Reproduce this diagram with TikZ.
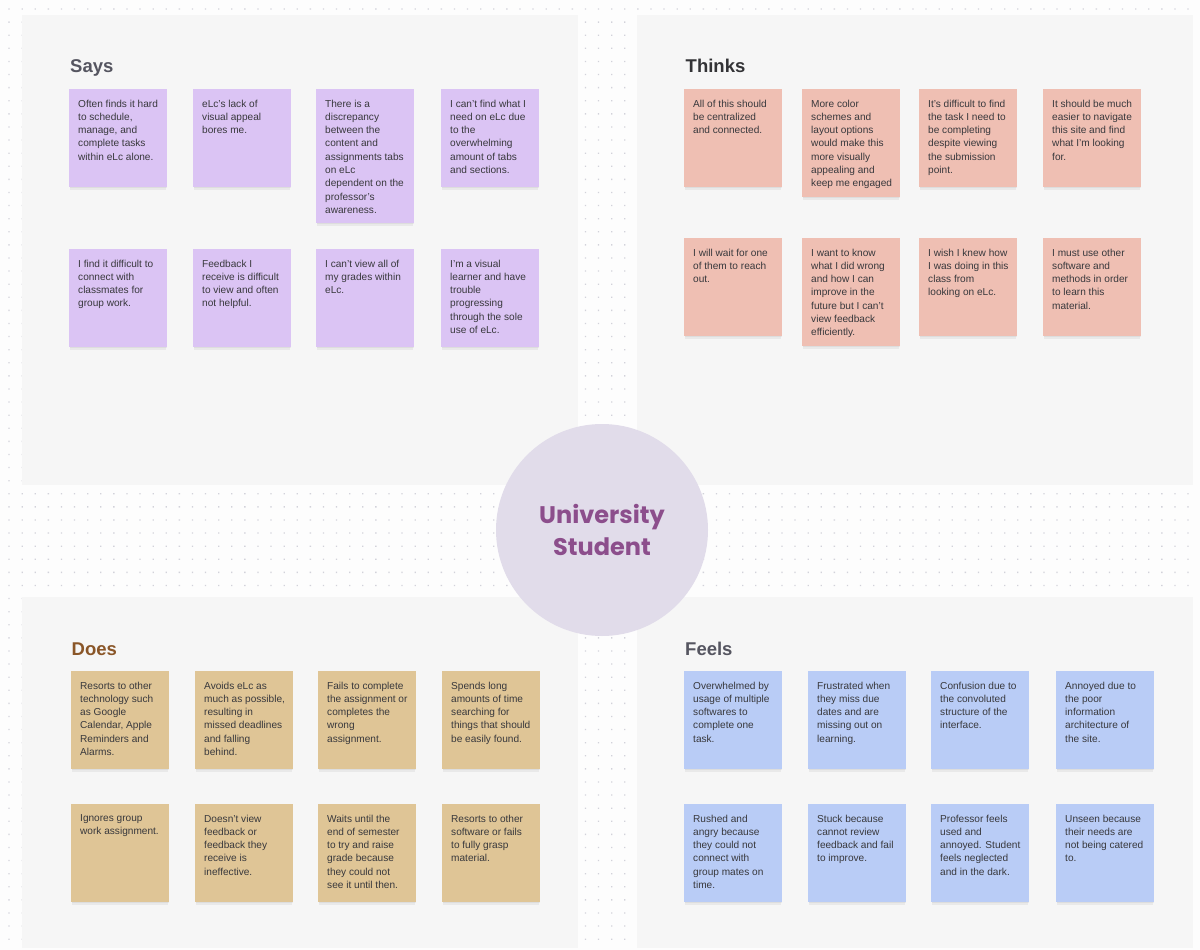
\documentclass[tikz,border=0pt]{standalone}
\usepackage{fontspec}
\setmainfont{Liberation Sans}
\newfontfamily\circfont{Poppins}
\definecolor{bgwhite}{HTML}{FDFDFD}
\definecolor{dotcol}{HTML}{D2D2DA}
\definecolor{panelcol}{HTML}{F6F6F6}
\definecolor{saysfill}{HTML}{DBC4F4}
\definecolor{thinksfill}{HTML}{EFBFB3}
\definecolor{doesfill}{HTML}{DFC596}
\definecolor{feelsfill}{HTML}{B9CCF6}
\definecolor{notetxt}{HTML}{38383C}
\definecolor{circfill}{HTML}{E1DCEA}
\definecolor{circtxt}{HTML}{8C4E8C}
\definecolor{saystitle}{HTML}{555560}
\definecolor{thinkstitle}{HTML}{333336}
\definecolor{doestitle}{HTML}{8A5628}
\definecolor{feelstitle}{HTML}{555560}
\tikzset{
  panel/.style={fill=panelcol, draw=none, anchor=north west, inner sep=0pt},
  note/.style={anchor=north west, minimum width=98pt, inner sep=0pt, draw=none},
  softshadow/.style={fill=black, opacity=0.05},
  notetext/.style={anchor=north west, align=left, inner sep=0pt, text=notetxt,
    font=\fontsize{10.1}{13.3}\selectfont},
  title/.style={anchor=base west, inner sep=0pt, font=\bfseries\fontsize{18.5}{22}\selectfont},
  says/.style={fill=saysfill},
  thinks/.style={fill=thinksfill},
  does/.style={fill=doesfill},
  feels/.style={fill=feelsfill},
}
\newcommand\sticky[6]{%
  \fill[softshadow] (#2+0.5,#3+1) rectangle (#2+97.5,#3+#4+1.3);
  \fill[softshadow] (#2+1,#3+2) rectangle (#2+97,#3+#4+2.6);
  \node[note,#5,minimum height=#4pt] (#1) at (#2,#3) {};
  \node[notetext] (#1t) at ([xshift=9pt,yshift=-10.5pt]#1.north west) {#6};
}
\begin{document}
\begin{tikzpicture}[x=1pt,y=-1pt]
\useasboundingbox (0,0) rectangle (1200,950);
\fill[bgwhite] (0,0) rectangle (1200,950);
\foreach \j in {0,...,71} {
  \fill[dotcol] \foreach \i in {0,...,90} { (8.4+13.1*\i, 8.4+13.1*\j) rectangle ++(1.3,1.3) };
}
% panels
\node[panel, minimum width=556pt, minimum height=470pt] (pSays) at (22,15) {};
\node[panel, minimum width=556pt, minimum height=470pt] (pThinks) at (637,15) {};
\node[panel, minimum width=556pt, minimum height=351pt] (pDoes) at (22,597) {};
\node[panel, minimum width=556pt, minimum height=351pt] (pFeels) at (637,597) {};
% titles
\node[title, text=saystitle] (tSays) at (70,73) {Says};
\node[title, text=thinkstitle] (tThinks) at (685.5,73) {Thinks};
\node[title, text=doestitle] (tDoes) at (71.5,655) {Does};
\node[title, text=feelstitle] (tFeels) at (685,655) {Feels};
% Says
\sticky{s1}{69}{89}{98}{says}{Often finds it hard\\to schedule,\\manage, and\\complete tasks\\within eLc alone.}
\sticky{s2}{193}{89}{98}{says}{eLc’s lack of\\visual appeal\\bores me.}
\sticky{s3}{316}{89}{134}{says}{There is a\\discrepancy\\between the\\content and\\assignments tabs\\on eLc\\dependent on the\\professor’s\\awareness.}
\sticky{s4}{441}{89}{98}{says}{I can’t find what I\\need on eLc due\\to the\\overwhelming\\amount of tabs\\and sections.}
\sticky{s5}{69}{249}{98}{says}{I find it difficult to\\connect with\\classmates for\\group work.}
\sticky{s6}{193}{249}{98}{says}{Feedback I\\receive is difficult\\to view and often\\not helpful.}
\sticky{s7}{316}{249}{98}{says}{I can’t view all of\\my grades within\\eLc.}
\sticky{s8}{441}{249}{98}{says}{I’m a visual\\learner and have\\trouble\\progressing\\through the sole\\use of eLc.}
% Thinks
\sticky{t1}{684}{89}{98}{thinks}{All of this should\\be centralized\\and connected.}
\sticky{t2}{802}{89}{108}{thinks}{More color\\schemes and\\layout options\\would make this\\more visually\\appealing and\\keep me engaged}
\sticky{t3}{919}{89}{98}{thinks}{It’s difficult to find\\the task I need to\\be completing\\despite viewing\\the submission\\point.}
\sticky{t4}{1043}{89}{98}{thinks}{It should be much\\easier to navigate\\this site and find\\what I’m looking\\for.}
\sticky{t5}{684}{238}{98}{thinks}{I will wait for one\\of them to reach\\out.}
\sticky{t6}{802}{238}{108}{thinks}{I want to know\\what I did wrong\\and how I can\\improve in the\\future but I can’t\\view feedback\\efficiently.}
\sticky{t7}{919}{238}{98}{thinks}{I wish I knew how\\I was doing in this\\class from\\looking on eLc.}
\sticky{t8}{1043}{238}{98}{thinks}{I must use other\\software and\\methods in order\\to learn this\\material.}
% Does
\sticky{d1}{71}{671}{98}{does}{Resorts to other\\technology such\\as Google\\Calendar, Apple\\Reminders and\\Alarms.}
\sticky{d2}{195}{671}{98}{does}{Avoids eLc as\\much as possible,\\resulting in\\missed deadlines\\and falling\\behind.}
\sticky{d3}{318}{671}{98}{does}{Fails to complete\\the assignment or\\completes the\\wrong\\assignment.}
\sticky{d4}{442}{671}{98}{does}{Spends long\\amounts of time\\searching for\\things that should\\be easily found.}
\sticky{d5}{71}{804}{98}{does}{Ignores group\\work assignment.}
\sticky{d6}{195}{804}{98}{does}{Doesn’t view\\feedback or\\feedback they\\receive is\\ineffective.}
\sticky{d7}{318}{804}{98}{does}{Waits until the\\end of semester\\to try and raise\\grade because\\they could not\\see it until then.}
\sticky{d8}{442}{804}{98}{does}{Resorts to other\\software or fails\\to fully grasp\\material.}
% Feels
\sticky{f1}{684}{671}{98}{feels}{Overwhelmed by\\usage of multiple\\softwares to\\complete one\\task.}
\sticky{f2}{808}{671}{98}{feels}{Frustrated when\\they miss due\\dates and are\\missing out on\\learning.}
\sticky{f3}{931}{671}{98}{feels}{Confusion due to\\the convoluted\\structure of the\\interface.}
\sticky{f4}{1056}{671}{98}{feels}{Annoyed due to\\the poor\\information\\architecture of\\the site.}
\sticky{f5}{684}{804}{98}{feels}{Rushed and\\angry because\\they could not\\connect with\\group mates on\\time.}
\sticky{f6}{808}{804}{98}{feels}{Stuck because\\cannot review\\feedback and fail\\to improve.}
\sticky{f7}{931}{804}{98}{feels}{Professor feels\\used and\\annoyed. Student\\feels neglected\\and in the dark.}
\sticky{f8}{1056}{804}{98}{feels}{Unseen because\\their needs are\\not being catered\\to.}
% centre
\node[circle, fill=circfill, minimum size=212pt, inner sep=0pt, align=center,
  text=circtxt, font=\circfont\bfseries\fontsize{24}{32}\selectfont] (student) at (602,530) {University\\Student};
\end{tikzpicture}
\end{document}
